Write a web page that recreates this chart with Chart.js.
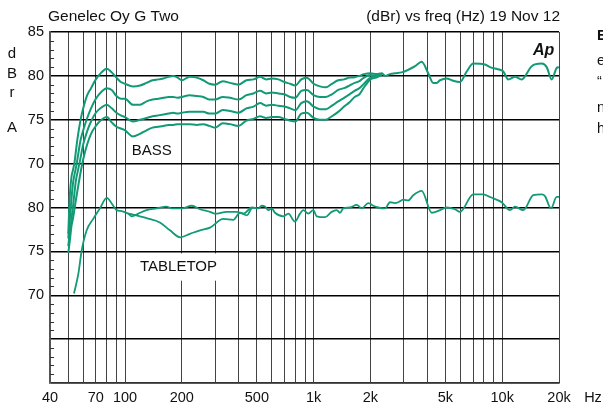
<!DOCTYPE html>
<html><head><meta charset="utf-8">
<script src="https://cdn.jsdelivr.net/npm/chart.js@4.4.1/dist/chart.umd.min.js"></script>
<style>html,body{margin:0;padding:0;background:#fff;overflow:hidden}#wrap{position:relative;width:603px;height:404px}</style>
</head><body><div id="wrap"><canvas id="c" width="603" height="404"></canvas></div>
<script>
// ---- data ----
const bassFreq=[50,51,52,53,54,55,56,58,60,63,66,70,75,80,85,90,95,100,110,120,130,140,150,160,170,180,190,200,220,240,260,280,300,330,360,400,440,480,520,560,600,650,700,750,800,860,920,1000,1080,1160,1250,1350,1450,1550,1650,1750,1850,2000,2150,2300];
const bass1=[62.0,66.5,68.5,69.3,70.2,71.6,72.9,74.9,76.3,77.8,78.6,79.6,80.4,80.8,80.4,79.8,79.3,79.1,78.8,78.9,79.2,79.5,79.6,79.7,79.9,80.0,79.8,79.5,79.9,79.8,79.5,79.1,79.0,79.4,79.2,79.0,79.5,79.6,79.9,79.6,79.7,79.6,79.3,79.1,78.9,79.6,79.8,79.1,78.8,78.7,79.1,79.5,79.6,79.8,79.85,80.0,80.2,80.3,80.2,80.3];
const bass2=[61.5,63.8,66.0,67.8,68.8,69.6,70.6,72.6,73.8,75.2,76.3,77.4,78.2,78.6,78.4,77.7,77.4,77.4,76.7,76.7,77.1,77.3,77.4,77.5,77.6,77.6,77.5,77.6,77.8,77.7,77.6,77.3,77.3,77.6,77.5,77.3,77.8,78.0,78.3,78.0,78.1,78.0,77.9,77.6,77.5,78.3,78.4,77.8,77.6,77.6,77.9,78.4,78.6,78.9,79.2,79.4,79.8,80.1,80.0,80.2];
const bass3=[60.6,62.3,63.7,65.2,66.8,68.2,69.0,70.6,72.2,73.7,74.8,75.8,76.4,76.7,76.3,75.8,75.5,75.3,74.8,75.0,75.2,75.4,75.5,75.6,75.7,75.8,75.7,75.8,75.9,75.9,75.9,75.7,75.7,76.1,76.0,75.8,76.3,76.5,76.9,76.6,76.7,76.6,76.5,76.3,76.1,76.9,77.1,76.5,76.2,76.2,76.6,77.1,77.5,77.9,78.3,78.6,79.1,79.8,79.9,80.2];
const bass4=[59.8,61.3,62.9,63.8,64.9,66.0,67.0,68.9,70.5,72.2,73.4,74.3,75.0,75.3,74.7,74.2,74.0,73.8,73.1,73.4,73.8,74.1,74.2,74.3,74.4,74.4,74.5,74.5,74.5,74.4,74.5,74.3,74.1,74.6,74.5,74.3,74.9,75.1,75.4,75.2,75.3,75.3,75.1,74.9,74.8,75.7,75.8,75.2,75.0,75.0,75.4,75.9,76.5,77.0,77.6,77.9,78.7,79.6,79.8,80.1];
const bassHighFreq=[2400,2540,2700,2930,3180,3450,3740,4050,4310,4490,4680,5080,5400,5970,6480,7020,8100,8610,9730,10130,10770,11690,12680,14330,16190,17210,18290,19440,20000];
const bassHigh=[80.0,80.2,80.3,80.4,80.7,81.1,81.6,80.3,79.2,79.2,79.5,79.7,79.5,79.3,80.5,81.4,81.3,81.0,80.7,80.5,79.6,79.9,79.6,81.1,81.4,81.0,79.6,80.9,81.0];

const tabletopFreq=[53.6,56.5,58.9,62.6,67.8,73.6,79.9,86.6,90.3,96,104,108.5,117.6,130,147,166,177,200,226,250,282,300,346,391,424,470,509,530,552,575,599,624,690,734,796,847,881,937,996,1038,1149,1246,1325,1379,1436,1558,1692,1798,1949,2071,2202,2389,2540,2700,2811,2988,3176,3375,3741,4229,4677,5075,5617,5972,7022,7937,8610,9933,10990,11690,12930,14610,16190,16850,18130,19440,20000];
const tabletopB=[70.2,72.4,75.1,77.4,78.7,79.9,81.1,80.2,79.7,79.6,79.3,79.0,79.3,79.7,79.9,80.1,79.9,79.9,80.2,79.8,79.5,79.3,79.5,79.5,79.3,80.0,79.9,80.2,80.1,79.7,79.9,79.4,79.0,79.3,78.4,79.3,79.7,79.3,79.7,79.0,78.9,79.5,79.7,79.4,79.9,80.0,80.3,79.9,80.5,80.2,80.0,79.9,80.6,80.5,80.6,80.9,80.8,81.4,81.9,79.4,79.7,80.0,79.8,79.5,81.5,81.5,81.2,80.6,79.7,80.1,79.7,81.4,81.5,81.3,79.9,81.2,81.2];
const tabletopAFreq=[104,110,120,130,153,173,196,221,250,282,332,375,407,442,470];
const tabletopA=[79.3,79.2,79.0,78.8,78.3,77.4,76.6,77.0,77.4,77.7,78.7,78.6,79.4,79.1,80.0];

const xGridValues=[50,60,70,80,90,100,200,300,400,500,600,700,800,900,1000,2000,3000,4000,5000,6000,7000,8000,9000,10000,20000];
const xTickValues=[40,70,100,200,500,1000,2000,5000,10000,20000];
const xTickLabels=['40','70','100','200','500','1k','2k','5k','10k','20k'];
const yTickValues=[85,80,75,70,65,60,55,50,45];
const yTickLabels=['85','80','75','70','80','75','70','',''];

// ---- style ----
const FONT="'Liberation Sans', Arial, Helvetica, sans-serif";
const LINE='#129a76';

function pts(fs,vs){return fs.map((f,i)=>({x:f,y:vs[i]}));}
const datasets=[
  {data:pts(bassFreq.concat(bassHighFreq),bass1.concat(bassHigh)),yAxisID:'y'},
  {data:pts(bassFreq,bass2),yAxisID:'y'},
  {data:pts(bassFreq,bass3),yAxisID:'y'},
  {data:pts(bassFreq,bass4),yAxisID:'y'},
  {data:pts(tabletopFreq,tabletopB),yAxisID:'y2',borderWidth:1.8},
  {data:pts(tabletopAFreq,tabletopA),yAxisID:'y2',borderWidth:1.8}
].map(d=>Object.assign({borderColor:LINE,borderWidth:2,pointRadius:0,fill:false,cubicInterpolationMode:'monotone'},d));

const decor={
  id:'decor',
  beforeDatasetsDraw(chart){
    const {ctx,chartArea:a,scales:{x,y}}=chart;
    ctx.save();
    // minor ticks on the left axis
    ctx.strokeStyle='#333';ctx.lineWidth=1;
    for(let v=46;v<85;v++){
      if(v%5===0)continue;
      const py=Math.round(y.getPixelForValue(v))+0.5;
      ctx.beginPath();ctx.moveTo(a.left,py);ctx.lineTo(a.left+4,py);ctx.stroke();
    }
    // in-plot labels
    ctx.font='15px '+FONT;ctx.fillStyle='#111';ctx.textBaseline='alphabetic';ctx.textAlign='left';
    const bx=x.getPixelForValue(108.5), by=y.getPixelForValue(71.0);
    ctx.fillText('BASS',bx,by);
    const tx=x.getPixelForValue(120), ty=y.getPixelForValue(57.8);
    const tw=ctx.measureText('TABLETOP').width;
    ctx.fillStyle='#fff';ctx.fillRect(tx-5,y.getPixelForValue(60)+2,tw+10,ty-y.getPixelForValue(60)+8);
    ctx.fillStyle='#111';ctx.fillText('TABLETOP',tx,ty);
    ctx.restore();
  },
  afterDraw(chart){
    const {ctx}=chart;
    ctx.save();ctx.fillStyle='#111';ctx.textBaseline='alphabetic';
    ctx.font='15.5px '+FONT;
    ctx.textAlign='left';ctx.fillText('Genelec Oy G Two',48,21);
    ctx.textAlign='right';ctx.fillText('(dBr) vs freq (Hz) 19 Nov 12',560,21);
    ctx.font='15px '+FONT;ctx.textAlign='center';
    ctx.fillText('d',12,58);ctx.fillText('B',12,78);ctx.fillText('r',12,97);ctx.fillText('A',12,132);
    ctx.font='14.5px '+FONT;ctx.fillText('Hz',593,401.5);
    ctx.font='italic bold 16px '+FONT;ctx.textAlign='left';ctx.fillText('Ap',533,55);
    ctx.font='bold 14.5px '+FONT;ctx.fillText('E',597,40);
    ctx.font='14.5px '+FONT;
    ctx.fillText('e',597,65);ctx.fillText('\u201C',597,86);ctx.fillText('n',597,111.5);ctx.fillText('h',597,133);
    ctx.restore();
  }
};

new Chart(document.getElementById('c'),{
  type:'line',
  data:{datasets},
  options:{
    responsive:false,animation:false,devicePixelRatio:1,
    layout:{padding:{left:0,top:32,right:44,bottom:0}},
    plugins:{legend:{display:false},tooltip:{enabled:false}},
    scales:{
      x:{type:'logarithmic',min:40,max:20000,
        afterBuildTicks:s=>{s.ticks=[40].concat(xGridValues).map(v=>({value:v}));},
        afterFit:s=>{s.height=21;},
        ticks:{autoSkip:false,maxRotation:0,minRotation:0,padding:6,color:'#111',font:{family:FONT,size:14.5},
          callback:v=>{const i=xTickValues.indexOf(v);return i>=0?xTickLabels[i]:'';}},
        grid:{color:'#444',lineWidth:1,drawTicks:false},
        border:{display:true,color:'#333',width:1.5}},
      y:{type:'linear',min:45,max:85,
        afterBuildTicks:s=>{s.ticks=yTickValues.map(v=>({value:v}));},
        afterFit:s=>{s.width=50;},
        ticks:{padding:6,color:'#111',font:{family:FONT,size:14.5},
          callback:v=>{const i=yTickValues.indexOf(v);return i>=0?yTickLabels[i]:'';}},
        grid:{color:'#000',lineWidth:1.4,drawTicks:false},
        border:{display:true,color:'#555',width:2}},
      y2:{type:'linear',min:60,max:100,display:false}
    }
  },
  plugins:[decor]
});
</script></body></html>
